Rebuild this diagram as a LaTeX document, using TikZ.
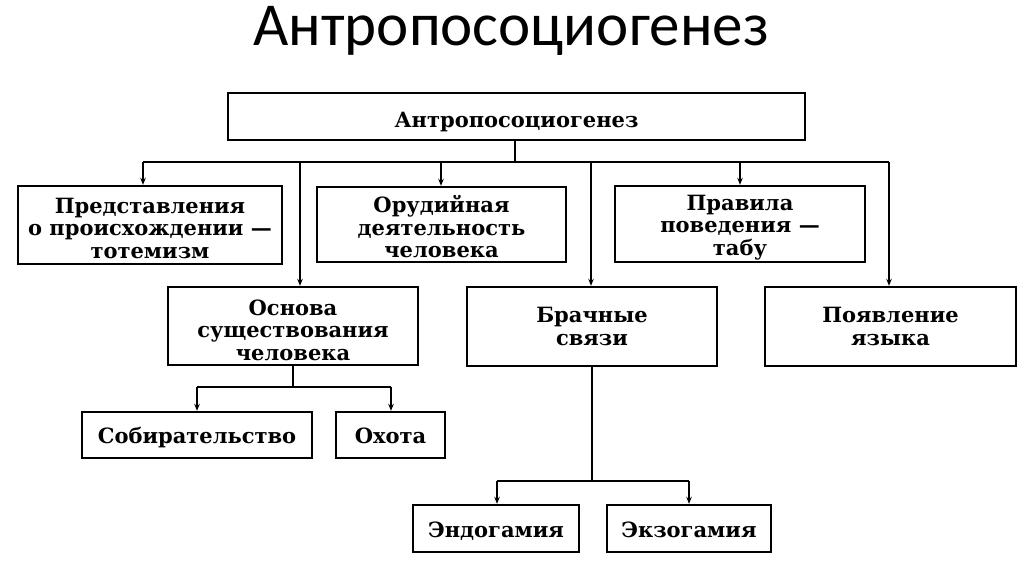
\documentclass[tikz,border=0pt]{standalone}
\usepackage{fontspec}
\setmainfont{DejaVu Serif}
\newfontfamily\titlefont{Carlito}
\newfontfamily\boxfont{DejaVu Serif}
\usetikzlibrary{arrows.meta}
\newcommand{\lift}[1]{\rule{0pt}{#1}}
\begin{document}
\begin{tikzpicture}[x=1pt,y=-1pt,
  box/.style={draw, line width=2.4pt, inner sep=0pt, align=center,
    font=\boxfont\bfseries\fontsize{21}{22.5}\selectfont},
  one/.style={text height=18pt, text depth=1pt},
  conn/.style={line width=2.2pt},
  arr/.style={line width=2.2pt, -{Stealth[length=7pt,width=5.5pt]}}]
\useasboundingbox (0,0) rectangle (1024,574);
\node[font=\titlefont\fontsize{61}{61}\selectfont, anchor=base, inner sep=0pt] (title) at (511,45) {Антропосоциогенез};
% boxes
\node[box, text height=21pt, text depth=0pt, minimum width=577pt, minimum height=47pt] (top) at (516.5,116.5) {Антропосоциогенез};
\node[box, minimum width=264pt, minimum height=78pt] (b1) at (150,225) {\lift{22pt}Представления\\о происхождении —\\тотемизм};
\node[box, minimum width=249pt, minimum height=75pt] (b2) at (441.5,224.5) {\lift{22pt}Орудийная\\деятельность\\человека};
\node[box, minimum width=250pt, minimum height=76pt] (b3) at (740,224) {\lift{22pt}Правила\\поведения —\\табу};
\node[box, minimum width=250pt, minimum height=78pt] (osn) at (293,326) {\lift{24pt}Основа\\существования\\человека};
\node[box, minimum width=250pt, minimum height=79pt] (brak) at (592,326.5) {Брачные\\связи};
\node[box, minimum width=251pt, minimum height=79pt] (poyav) at (890.5,326.5) {Появление\\языка};
\node[box, one, minimum width=230pt, minimum height=46pt] (sob) at (197,435) {Собирательство};
\node[box, one, minimum width=109pt, minimum height=46pt] (ohota) at (390.5,435) {Охота};
\node[box, one, minimum width=166pt, minimum height=47pt] (endo) at (496,528.5) {Эндогамия};
\node[box, one, minimum width=164pt, minimum height=47pt] (exo) at (689,528.5) {Экзогамия};
% main bus
\coordinate (m0) at (515,162);
\coordinate (mL) at (143,162);
\coordinate (mR) at (889,162);
\coordinate (m1) at (300,162);
\coordinate (m2) at (441,162);
\coordinate (m3) at (591,162);
\coordinate (m4) at (740,162);
\draw[conn] (top.south -| m0) -- (m0);
\draw[conn] (mL) -- (mR);
\draw[arr] (mL) -- (b1.north -| mL);
\draw[arr] (m1) -- (osn.north -| m1);
\draw[arr] (m2) -- (b2.north -| m2);
\draw[arr] (m3) -- (brak.north -| m3);
\draw[arr] (m4) -- (b3.north -| m4);
\draw[arr] (mR) -- (poyav.north -| mR);
% Основа bus
\coordinate (o0) at (293,387);
\coordinate (oL) at (197,387);
\coordinate (oR) at (391,387);
\draw[conn] (osn.south -| o0) -- (o0);
\draw[conn] (oL) -- (oR);
\draw[arr] (oL) -- (sob.north -| oL);
\draw[arr] (oR) -- (ohota.north -| oR);
% Брачные bus
\coordinate (k0) at (592,481);
\coordinate (kL) at (497,481);
\coordinate (kR) at (689,481);
\draw[conn] (brak.south -| k0) -- (k0);
\draw[conn] (kL) -- (kR);
\draw[arr] (kL) -- (endo.north -| kL);
\draw[arr] (kR) -- (exo.north -| kR);
\end{tikzpicture}
\end{document}
